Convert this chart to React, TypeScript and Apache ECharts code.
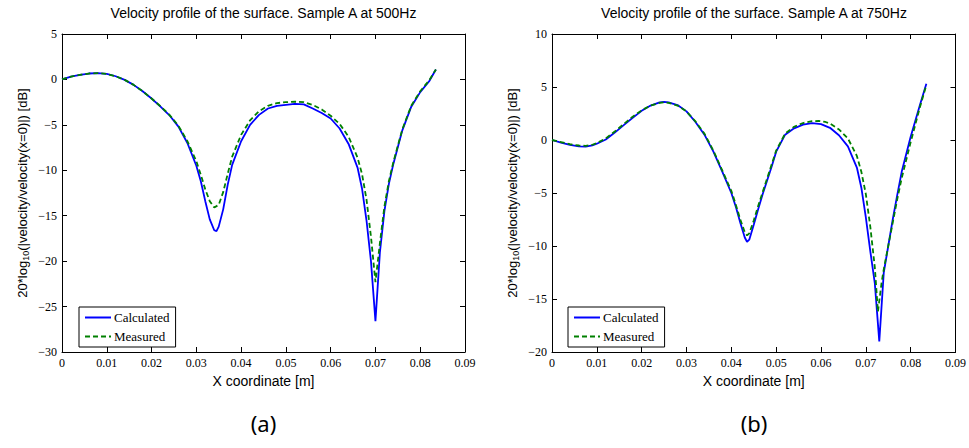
import React, { useEffect, useRef } from "react";
import * as echarts from "echarts";

// ---- Data: Sample A at 500Hz ----
const leftCalcX = [0,0.002,0.004,0.006,0.008,0.010,0.012,0.014,0.016,0.018,0.020,0.022,0.024,0.026,0.028,0.030,0.031,0.032,0.033,0.034,0.0345,0.035,0.036,0.037,0.038,0.040,0.042,0.044,0.046,0.048,0.050,0.052,0.054,0.056,0.058,0.060,0.062,0.064,0.066,0.067,0.068,0.069,0.070,0.071,0.072,0.073,0.074,0.076,0.078,0.080,0.082,0.0835];
const leftCalcY = [0,0.3,0.5,0.65,0.7,0.6,0.35,-0.05,-0.6,-1.3,-2.1,-3.0,-3.95,-5.2,-7.0,-9.5,-11.2,-13.4,-15.4,-16.6,-16.7,-16.2,-14.3,-11.6,-9.4,-6.8,-5.0,-3.9,-3.2,-2.9,-2.8,-2.7,-2.75,-3.2,-3.7,-4.3,-5.4,-7.1,-9.7,-12,-15.5,-20,-26.6,-19,-14.5,-11.5,-9.3,-5.6,-3.0,-1.4,-0.2,1.1];
const leftMeasX = [0,0.002,0.004,0.006,0.008,0.010,0.012,0.014,0.016,0.018,0.020,0.022,0.024,0.026,0.028,0.030,0.031,0.032,0.033,0.034,0.035,0.036,0.037,0.038,0.040,0.042,0.044,0.046,0.048,0.050,0.052,0.054,0.056,0.058,0.060,0.062,0.064,0.066,0.067,0.068,0.069,0.070,0.071,0.072,0.073,0.074,0.076,0.078,0.080,0.082,0.0835];
const leftMeasY = [0,0.3,0.5,0.65,0.7,0.6,0.35,-0.05,-0.6,-1.3,-2.1,-2.95,-3.9,-5.1,-6.8,-9.0,-10.5,-12.1,-13.4,-14.1,-13.8,-12.4,-10.4,-8.5,-6.1,-4.5,-3.5,-2.9,-2.6,-2.5,-2.45,-2.5,-2.8,-3.3,-4.0,-4.9,-6.3,-8.6,-10.4,-13.2,-17.3,-22.3,-18,-14,-11.2,-9.1,-5.5,-2.9,-1.3,-0.1,1.1];

// ---- Data: Sample A at 750Hz ----
const rightCalcX = [0,0.002,0.004,0.006,0.0075,0.009,0.010,0.012,0.014,0.016,0.018,0.020,0.022,0.024,0.025,0.026,0.028,0.030,0.032,0.034,0.036,0.038,0.040,0.041,0.042,0.043,0.0435,0.044,0.045,0.046,0.047,0.048,0.049,0.050,0.052,0.054,0.056,0.058,0.060,0.062,0.064,0.066,0.068,0.069,0.070,0.071,0.072,0.073,0.074,0.075,0.076,0.077,0.078,0.080,0.082,0.0835];
const rightCalcY = [0,-0.25,-0.45,-0.6,-0.63,-0.5,-0.35,0.05,0.7,1.4,2.1,2.75,3.25,3.55,3.6,3.55,3.3,2.7,1.7,0.5,-1.1,-3.0,-5.0,-6.3,-7.8,-9.2,-9.6,-9.4,-8.0,-6.5,-5.1,-3.8,-2.5,-1.1,0.5,1.1,1.45,1.6,1.5,1.15,0.45,-0.6,-2.6,-4.5,-7.3,-10.5,-13.5,-19,-12.5,-10,-7.5,-5.2,-3.0,0.3,3.2,5.3];
const rightMeasX = [0,0.002,0.004,0.006,0.0075,0.009,0.010,0.012,0.014,0.016,0.018,0.020,0.022,0.024,0.025,0.026,0.028,0.030,0.032,0.034,0.036,0.038,0.040,0.041,0.042,0.043,0.0435,0.044,0.045,0.046,0.047,0.048,0.049,0.050,0.052,0.054,0.056,0.058,0.0595,0.061,0.062,0.064,0.066,0.068,0.069,0.070,0.071,0.072,0.0727,0.0735,0.074,0.075,0.076,0.077,0.078,0.080,0.082,0.0835];
const rightMeasY = [0,-0.2,-0.4,-0.52,-0.55,-0.45,-0.3,0.15,0.8,1.5,2.2,2.8,3.25,3.5,3.55,3.5,3.25,2.7,1.75,0.6,-1.0,-2.9,-4.8,-6.1,-7.5,-8.7,-9.0,-8.8,-7.6,-6.2,-4.9,-3.6,-2.3,-1.0,0.6,1.25,1.6,1.78,1.8,1.7,1.55,1.0,0.15,-1.5,-3.0,-5.1,-8.2,-12,-16.2,-13.5,-12.2,-10,-7.8,-5.6,-3.6,-0.2,3.0,5.2];

const seriesNames = ["Calculated", "Measured"];
const titles = [
  "Velocity profile of the surface. Sample A at 500Hz",
  "Velocity profile of the surface. Sample A at 750Hz",
];
const captions = ["(a)", "(b)"];
const xAxisName = "X coordinate [m]";
const yAxisName = "20*log{sub|10}(|velocity/velocity(x=0)|) [dB]";
const xRange = { min: 0, max: 0.09, interval: 0.01 };
const yRanges = [
  { min: -30, max: 5, interval: 5 },
  { min: -20, max: 10, interval: 5 },
];

const pair = (xs: number[], ys: number[]) => xs.map((x, i) => [x, ys[i]]);

const serif = "'Liberation Serif', 'Times New Roman', serif";
const sans = "'Liberation Sans', Arial, sans-serif";

export default function App() {
  const ref = useRef<HTMLDivElement>(null);
  useEffect(() => {
    document.body.style.margin = "0";
    const chart = echarts.init(ref.current!, undefined, { renderer: "svg" });
    const grids = [
      { left: 62, top: 34, width: 403, height: 318 },
      { left: 552, top: 34, width: 404, height: 318 },
    ];
    const xFmt = (v: number) => String(Number(v.toFixed(4)));
    const yFmt = (v: number) => String(Number(v.toFixed(4))).replace("-", "\u2212");
    const tick = { show: true, inside: true, length: 5, lineStyle: { color: "#000", width: 1 } };
    const line = { show: true, onZero: false, lineStyle: { color: "#000", width: 1 } };
    const xAxes: any[] = [];
    const yAxes: any[] = [];
    [0, 1].forEach((g) => {
      xAxes.push({
        type: "value", gridIndex: g, position: "bottom", ...xRange,
        axisLine: line, axisTick: tick, splitLine: { show: false },
        axisLabel: { formatter: xFmt, fontFamily: serif, fontSize: 12, color: "#000", margin: 5 },
        name: xAxisName, nameLocation: "middle", nameGap: 19,
        nameTextStyle: { fontFamily: sans, fontSize: 14, color: "#000" },
      });
      xAxes.push({
        type: "value", gridIndex: g, position: "top", ...xRange,
        axisLine: line, axisTick: tick, splitLine: { show: false }, axisLabel: { show: false },
      });
      yAxes.push({
        type: "value", gridIndex: g, position: "left", ...yRanges[g],
        axisLine: line, axisTick: tick, splitLine: { show: false },
        axisLabel: { formatter: yFmt, fontFamily: serif, fontSize: 12, color: "#000", margin: 5 },
        name: yAxisName, nameLocation: "middle", nameGap: 32,
        nameTextStyle: {
          fontFamily: sans, fontSize: 13, color: "#000", lineHeight: 15,
          rich: { sub: { fontFamily: sans, fontSize: 9, color: "#000", verticalAlign: "bottom", lineHeight: 11 } },
        },
      });
      yAxes.push({
        type: "value", gridIndex: g, position: "right", ...yRanges[g],
        axisLine: line, axisTick: tick, splitLine: { show: false }, axisLabel: { show: false },
      });
    });
    const mk = (name: string, data: number[][], g: number) => ({
      type: "line", name, data, xAxisIndex: g * 2, yAxisIndex: g * 2,
      symbol: "none", showSymbol: false, smooth: false,
      lineStyle: name === "Calculated"
        ? { color: "#0000ff", width: 1.8 }
        : { color: "#008000", width: 1.8, type: [5, 3] },
      itemStyle: { color: name === "Calculated" ? "#0000ff" : "#008000" },
      emphasis: { disabled: true },
    });
    const legendBase = {
      data: seriesNames, orient: "vertical", top: 307, itemWidth: 26, itemHeight: 10, itemGap: 6,
      padding: [4, 6, 4, 5], borderColor: "#000", borderWidth: 1, backgroundColor: "#fff",
      borderRadius: 0, itemStyle: { opacity: 0 },
      textStyle: { fontFamily: serif, fontSize: 13, color: "#000", padding: [0, 0, 0, -2] },
      selectedMode: false,
    };
    chart.setOption({
      animation: false,
      backgroundColor: "#fff",
      title: titles.map((t, i) => ({
        text: t, left: grids[i].left + grids[i].width / 2, top: 6, textAlign: "center", padding: 0,
        textStyle: { fontFamily: sans, fontSize: 14, fontWeight: "normal", color: "#000" },
      })),
      grid: grids,
      xAxis: xAxes,
      yAxis: yAxes,
      legend: [
        { ...legendBase, left: 79 },
        { ...legendBase, left: 568 },
      ],
      series: [
        mk("Calculated", pair(leftCalcX, leftCalcY), 0),
        mk("Measured", pair(leftMeasX, leftMeasY), 0),
        mk("Calculated", pair(rightCalcX, rightCalcY), 1),
        mk("Measured", pair(rightMeasX, rightMeasY), 1),
      ],
      graphic: captions.map((c, i) => ({
        type: "text", x: grids[i].left + grids[i].width / 2, y: 423,
        style: { text: c, fontFamily: "'Noto Sans', sans-serif", fontSize: 22, fill: "#000", textAlign: "center", textVerticalAlign: "middle" },
      })),
    });
    return () => chart.dispose();
  }, []);
  return <div ref={ref} style={{ width: 969, height: 448 }} />;
}
